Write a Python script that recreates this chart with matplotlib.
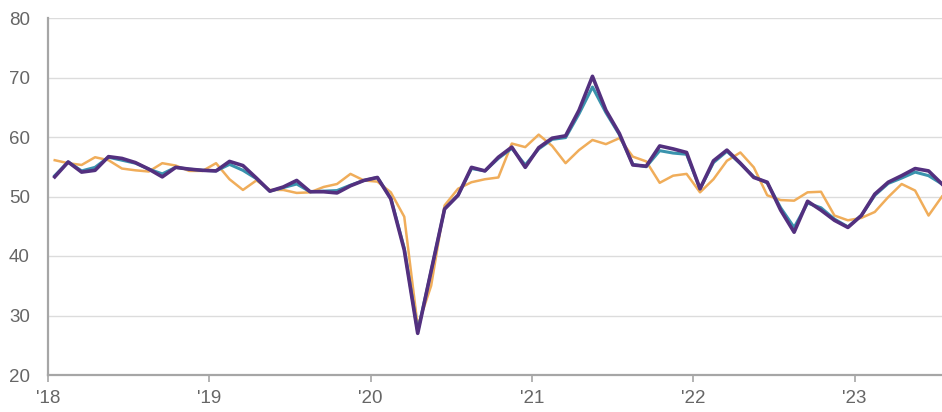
import matplotlib
matplotlib.use("Agg")
import matplotlib.pyplot as plt
import numpy as np

plt.rcParams['font.family'] = ['Liberation Sans', 'DejaVu Sans']

# Monthly data, Jan 2018 .. Jul 2023
purple = [53.3, 55.8, 54.1, 54.4, 56.7, 56.4, 55.7, 54.6, 53.3, 54.9, 54.6, 54.4,
          54.3, 55.9, 55.2, 53.1, 50.9, 51.6, 52.7, 50.8, 50.8, 50.6, 51.8, 52.7,
          53.2, 49.6, 41.0, 27.0, 37.5, 47.9, 50.2, 54.9, 54.3, 56.6, 58.3, 54.9,
          58.2, 59.8, 60.2, 64.5, 70.2, 64.5, 60.6, 55.3, 55.1, 58.5, 58.0, 57.4,
          51.3, 56.0, 57.8, 55.6, 53.2, 52.4, 47.7, 44.0, 49.2, 47.7, 46.0, 44.8,
          46.8, 50.4, 52.4, 53.5, 54.7, 54.3, 52.1]
teal = [53.5, 55.8, 54.3, 54.9, 56.6, 56.1, 55.6, 54.6, 53.8, 54.9, 54.6, 54.4,
        54.3, 55.4, 54.4, 53.0, 50.9, 51.5, 52.1, 50.8, 50.9, 51.0, 51.9, 52.7,
        53.2, 49.7, 41.3, 27.3, 37.5, 47.9, 50.2, 54.7, 54.3, 56.4, 58.1, 55.3,
        58.0, 59.6, 59.9, 63.9, 68.4, 64.1, 60.4, 55.4, 55.0, 57.7, 57.3, 57.1,
        51.3, 55.7, 57.6, 55.5, 53.3, 52.3, 48.1, 44.8, 48.9, 48.1, 46.2, 44.9,
        46.8, 50.2, 52.2, 53.1, 54.1, 53.5, 52.1]
orange = [56.1, 55.6, 55.3, 56.6, 56.1, 54.7, 54.4, 54.2, 55.6, 55.2, 54.3, 54.3,
          55.6, 52.9, 51.1, 52.7, 51.1, 51.1, 50.6, 50.7, 51.6, 52.1, 53.8, 52.7,
          52.5, 50.7, 46.6, 28.2, 35.0, 48.5, 51.3, 52.4, 52.9, 53.2, 58.9, 58.3,
          60.4, 58.5, 55.6, 57.8, 59.5, 58.8, 59.8, 56.7, 55.9, 52.3, 53.5, 53.8,
          50.7, 52.9, 56.0, 57.4, 54.9, 50.2, 49.4, 49.3, 50.7, 50.8, 46.8, 46.0,
          46.4, 47.4, 49.9, 52.1, 51.0, 46.8, 50.0]
year_labels = ["'18", "'19", "'20", "'21", "'22", "'23"]

x = np.arange(len(purple)) + 0.5

fig = plt.figure(figsize=(9.42, 4.12), dpi=100)
ax = fig.add_axes([48 / 942, 1 - 375 / 412, 1 - 48 / 942, (375 - 18) / 412])

ax.plot(x, orange, color='#f0ad5a', lw=1.8, zorder=3)
ax.plot(x, teal, color='#3a93ad', lw=2.2, zorder=4)
ax.plot(x, purple, color='#53307f', lw=2.6, zorder=5)

ax.set_xlim(0, len(purple) - 0.5)
ax.set_ylim(20, 80)
ax.set_yticks(range(20, 81, 10))
ax.set_xticks(np.arange(len(year_labels)) * 12)
ax.set_xticklabels(year_labels)

ax.grid(axis='y', color='#dcdcdc', lw=1)
ax.set_axisbelow(True)
for s in ['top', 'right']:
    ax.spines[s].set_visible(False)
for s in ['left', 'bottom']:
    ax.spines[s].set_color('#a6a6a6')
    ax.spines[s].set_linewidth(1.6)

ax.tick_params(axis='y', length=0, pad=13, labelsize=13.5, labelcolor='#666666')
ax.tick_params(axis='x', length=5, width=1.2, color='#a6a6a6', pad=6,
               labelsize=13.5, labelcolor='#666666')

fig.savefig('out.png', dpi=100)
